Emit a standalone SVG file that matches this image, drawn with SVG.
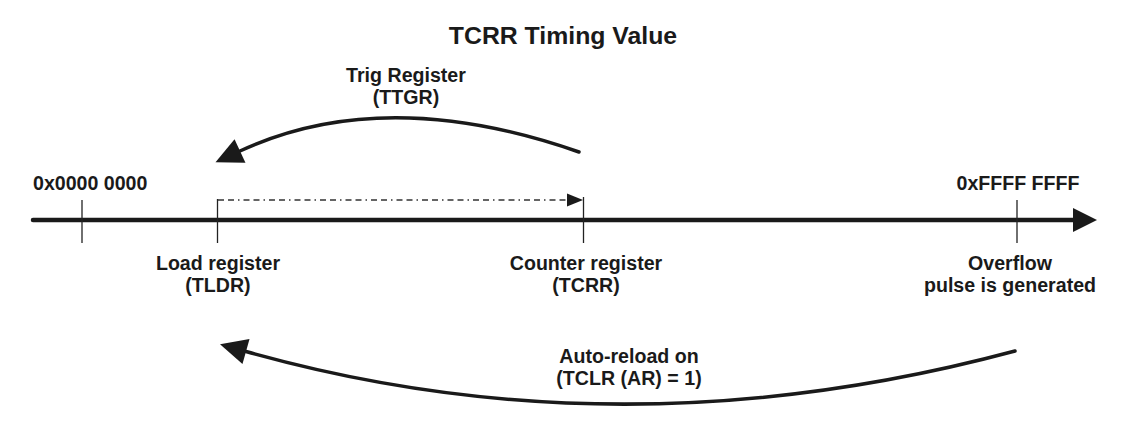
<svg xmlns="http://www.w3.org/2000/svg" width="1128" height="438" viewBox="0 0 1128 438">
<defs>
<style>
text{font-family:"Liberation Sans",Arial,sans-serif;font-weight:bold;fill:#1a1a1a;font-size:19.6px;text-anchor:middle}
.title{font-size:24.8px}
.tick{stroke:#222;stroke-width:1.3;fill:none}
.curve{stroke:#1a1a1a;stroke-width:3.5;fill:none;stroke-linecap:round}
</style>
<marker id="bigHead" markerUnits="userSpaceOnUse" markerWidth="30" markerHeight="30" refX="0" refY="13" orient="auto" overflow="visible">
<path d="M0,0 L27,13 L0,26 Z" fill="#1a1a1a"/>
</marker>
<marker id="smallHead" markerUnits="userSpaceOnUse" markerWidth="20" markerHeight="20" refX="0" refY="6.5" orient="auto" overflow="visible">
<path d="M0,0 L16,6.5 L0,13 Z" fill="#1a1a1a"/>
</marker>
</defs>
<rect width="1128" height="438" fill="#fff"/>
<text class="title" x="563" y="44">TCRR Timing Value</text>
<g id="connectors">
<line x1="33" y1="220" x2="1075" y2="220" stroke="#1a1a1a" stroke-width="4.5" stroke-linecap="round"/>
<path d="M1073,208 L1097,220 L1073,232 Z" fill="#1a1a1a"/>
<path class="curve" d="M579,152 Q384.5,84 240,151" marker-end="url(#bigHead)"/>
<path class="curve" d="M1015,351 Q620,457 246,351.5" marker-end="url(#bigHead)"/>
<path d="M218,200 L567,200" stroke="#333" stroke-width="1.5" stroke-dasharray="6 4 6 4 1.5 4" fill="none" marker-end="url(#smallHead)"/>
</g>
<g id="start">
<line class="tick" x1="82" y1="200" x2="82" y2="243"/>
<text x="33" y="190" style="text-anchor:start">0x0000 0000</text>
</g>
<g id="tldr">
<line class="tick" x1="217.5" y1="199" x2="217.5" y2="243"/>
<text x="218" y="270">Load register</text>
<text x="218" y="292">(TLDR)</text>
</g>
<g id="tcrr">
<line class="tick" x1="583.5" y1="197" x2="583.5" y2="243"/>
<text x="586" y="270">Counter register</text>
<text x="586" y="292">(TCRR)</text>
</g>
<g id="overflow">
<line class="tick" x1="1017" y1="200" x2="1017" y2="243"/>
<text x="1018" y="190">0xFFFF FFFF</text>
<text x="1010" y="270">Overflow</text>
<text x="1010" y="292">pulse is generated</text>
</g>
<g id="ttgr">
<text x="406" y="82">Trig Register</text>
<text x="406" y="104">(TTGR)</text>
</g>
<g id="autoreload">
<text x="629" y="363">Auto-reload on</text>
<text x="629" y="385">(TCLR (AR) = 1)</text>
</g>
</svg>
